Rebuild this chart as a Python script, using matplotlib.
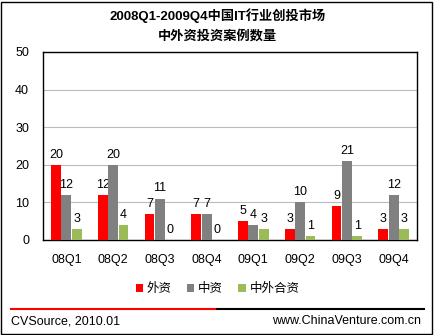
import matplotlib.pyplot as plt
import numpy as np
from matplotlib.patches import Rectangle
from matplotlib.lines import Line2D

plt.rcParams['font.family'] = ['Liberation Sans', 'Noto Sans CJK SC']

quarters = ['08Q1', '08Q2', '08Q3', '08Q4', '09Q1', '09Q2', '09Q3', '09Q4']
foreign = [20, 12, 7, 7, 5, 3, 9, 3]
domestic = [12, 20, 11, 7, 4, 10, 21, 12]
joint = [3, 4, 0, 0, 3, 1, 1, 3]
series_names = ['外资', '中资', '中外合资']
colors = ['#FF0000', '#808080', '#9BBB59']

fig = plt.figure(figsize=(4.35, 3.35), dpi=100)
ax = fig.add_axes([43 / 435, 1 - 240 / 335, 374 / 435, 188 / 335])

x = np.arange(len(quarters))
width = 0.21
for i, (vals, name, c) in enumerate(zip([foreign, domestic, joint], series_names, colors)):
    bars = ax.bar(x + (i - 1) * width * 1.05, vals, width, color=c, label=name, zorder=3)
    ax.bar_label(bars, padding=3, fontsize=9)

ax.set_ylim(0, 50)
ax.set_xlim(-0.5, len(quarters) - 0.5)
ax.set_yticks(range(0, 51, 10))
ax.yaxis.grid(True, color='#BBBBBB', linewidth=0.8, zorder=0)
ax.set_xticks(x)
ax.set_xticklabels(quarters, fontsize=9)
ax.tick_params(axis='x', length=0, labelsize=9, pad=10)
ax.tick_params(axis='y', length=0, labelsize=9, pad=10)
for s in ax.spines.values():
    s.set_color('black')
    s.set_linewidth(1)

fig.text(0.5, 1 - 16 / 335, '2008Q1-2009Q4中国IT行业创投市场', ha='center', va='center',
         fontsize=9.5, fontweight='bold')
fig.text(0.5, 1 - 36 / 335, '中外资投资案例数量', ha='center', va='center',
         fontsize=9.5, fontweight='bold')

handles, labels = ax.get_legend_handles_labels()
fig.legend(handles, labels, loc='center', bbox_to_anchor=(0.5, 1 - 289 / 335), ncol=3,
           frameon=False, fontsize=9, handlelength=0.6, handleheight=0.6,
           handletextpad=0.3, columnspacing=1.2)

y_line = 1 - 309 / 335
fig.add_artist(Line2D([11 / 435, 217 / 435], [y_line, y_line], color='#FF0000', linewidth=1.5))
fig.add_artist(Line2D([217 / 435, 424 / 435], [y_line, y_line], color='black', linewidth=1.5))
fig.text(11 / 435, 1 - 321 / 335, 'CVSource, 2010.01', ha='left', va='center', fontsize=9)
fig.text(421 / 435, 1 - 321 / 335, 'www.ChinaVenture.com.cn', ha='right', va='center', fontsize=9)

fig.add_artist(Rectangle((1 / 435, 1 / 335), 431 / 435, 332 / 335, transform=fig.transFigure,
                         fill=False, edgecolor='black', linewidth=1))

fig.savefig('out.png', dpi=100)
